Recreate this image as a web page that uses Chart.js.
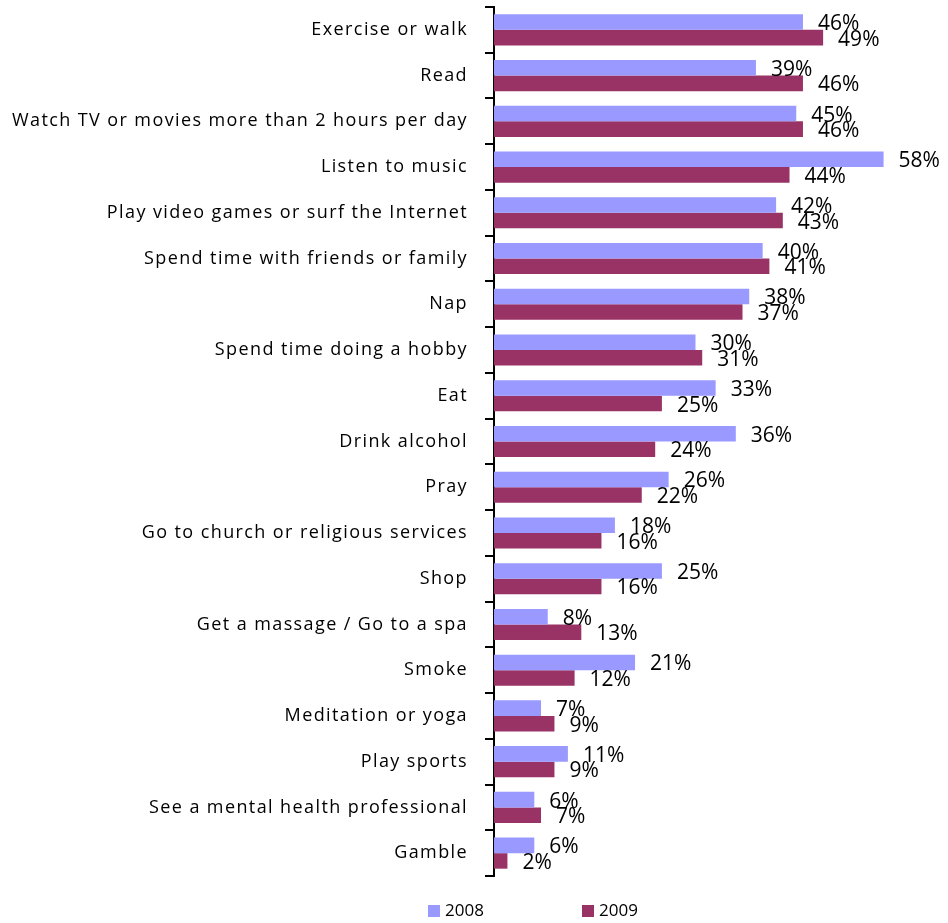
<!DOCTYPE html>
<html>
<head>
<meta charset="utf-8">
<script src="https://cdn.jsdelivr.net/npm/chart.js@4.4.1/dist/chart.umd.min.js"></script>
<style>
  html, body { margin: 0; padding: 0; background: #fff; }
  #wrap { width: 948px; height: 923px; }
</style>
</head>
<body>
<div id="wrap"><canvas id="bar-chart"></canvas></div>
<script>
var categories = ['Exercise or walk', 'Read', 'Watch TV or movies more than 2 hours per day', 'Listen to music',
    'Play video games or surf the Internet', 'Spend time with friends or family', 'Nap', 'Spend time doing a hobby',
    'Eat', 'Drink alcohol', 'Pray', 'Go to church or religious services', 'Shop', 'Get a massage / Go to a spa',
    'Smoke', 'Meditation or yoga', 'Play sports', 'See a mental health professional', 'Gamble'];
var seriesNames = ['2008', '2009'];
var values2008 = [46, 39, 45, 58, 42, 40, 38, 30, 33, 36, 26, 18, 25, 8, 21, 7, 11, 6, 6];
var values2009 = [49, 46, 46, 44, 43, 41, 37, 31, 25, 24, 22, 16, 16, 13, 12, 9, 9, 7, 2];
var colors = ['#9999FF', '#993366'];

// spaced out text like the original, for the category labels
var spacingPlugin = {
    id: 'spacing',
    beforeUpdate: function(chart) { chart.ctx.letterSpacing = '1.4px'; },
    beforeDraw: function(chart) { chart.ctx.letterSpacing = '1.4px'; }
};

// value labels after each bar + legend at the bottom
var labelPlugin = {
    id: 'barLabels',
    afterDatasetsDraw: function(chart) {
        var ctx = chart.ctx;
        ctx.save();
        ctx.letterSpacing = '0px';
        ctx.font = '21px "Open Sans"';
        ctx.fillStyle = '#000';
        ctx.textAlign = 'left';
        ctx.textBaseline = 'middle';
        chart.data.datasets.forEach(function(ds, i) {
            chart.getDatasetMeta(i).data.forEach(function(bar, j) {
                ctx.fillText(ds.data[j] + '%', bar.x + 15, bar.y + 2);
            });
        });
        // legend
        ctx.font = '17px "Open Sans"';
        var legendX = [428, 582];
        chart.data.datasets.forEach(function(ds, i) {
            ctx.fillStyle = ds.backgroundColor;
            ctx.fillRect(legendX[i], 905, 12, 12);
            ctx.fillStyle = '#000';
            ctx.fillText(ds.label, legendX[i] + 17, 911);
        });
        ctx.restore();
    }
};

new Chart(document.getElementById('bar-chart'), {
    type: 'bar',
    data: {
        labels: categories,
        datasets: [{
            label: seriesNames[0],
            data: values2008,
            backgroundColor: colors[0]
        }, {
            label: seriesNames[1],
            data: values2009,
            backgroundColor: colors[1]
        }]
    },
    options: {
        indexAxis: 'y',
        responsive: true,
        maintainAspectRatio: false,
        animation: false,
        layout: { padding: { top: 7, right: 51, bottom: 47, left: 0 } },
        datasets: { bar: { categoryPercentage: 0.68, barPercentage: 1 } },
        scales: {
            x: { display: false, min: 0, max: 60 },
            y: {
                afterFit: function(scale) {
                    scale.width = 494;
                    scale.paddingTop = 0;
                    scale.paddingBottom = 0;
                },
                grid: { drawOnChartArea: false, drawTicks: true, tickLength: 9, color: '#000', lineWidth: 2, offset: true },
                border: { color: '#000', width: 2 },
                ticks: { padding: 17, color: '#000', font: { family: '"Open Sans"', size: 18 } }
            }
        },
        plugins: {
            legend: { display: false },
            tooltip: { enabled: false }
        }
    },
    plugins: [spacingPlugin, labelPlugin]
});
</script>
</body>
</html>
